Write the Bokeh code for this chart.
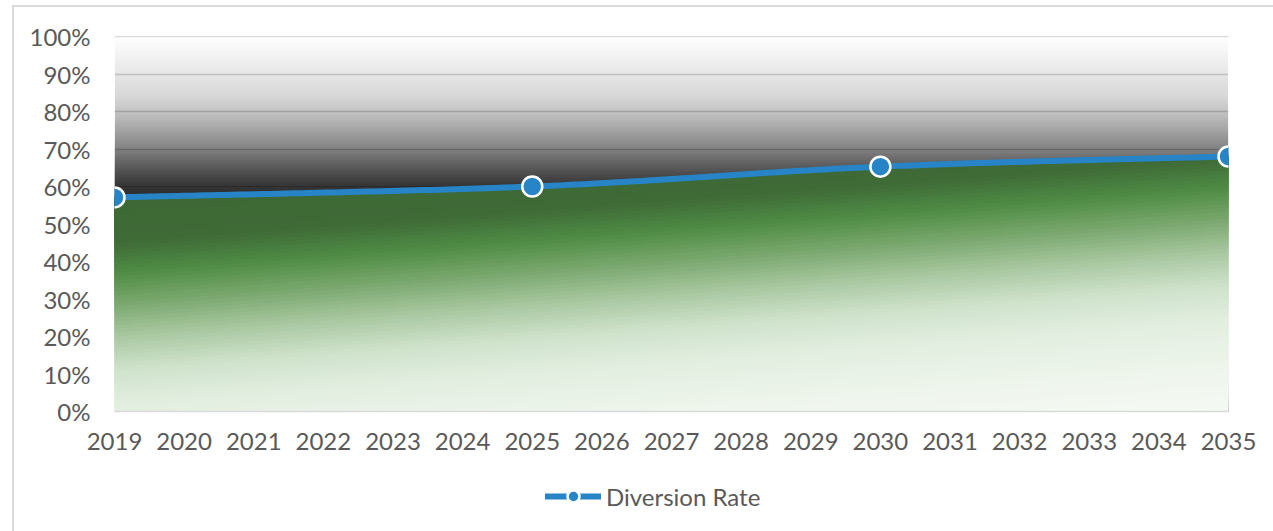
import numpy as np
from bokeh.plotting import figure
from bokeh.layouts import column
from bokeh.models import Range1d, FixedTicker, Legend, LegendItem, ColumnDataSource
from bokeh.embed import file_html
from bokeh.resources import INLINE

# ---------------- data ----------------
years = list(range(2019, 2036))
year_labels = [str(y) for y in years]
point_years = [2019, 2025, 2030, 2035]
diversion_rate = [57.1, 60.0, 65.3, 68.0]          # percent
y_ticks = [0, 10, 20, 30, 40, 50, 60, 70, 80, 90, 100]
y_tick_labels = ["0%", "10%", "20%", "30%", "40%", "50%", "60%", "70%", "80%", "90%", "100%"]
series_name = "Diversion Rate"

# ---------------- style ----------------
FONT = "Lato"
FS = "24px"
TXT = "#595959"
GRID = "#d9d9d9"
BLUE = "#2684c7"
OX, OY = 14, 7           # offset of the figures inside the bordered chart box


def smooth(xs, ys, n=60):
    """Excel-like smoothed line (Bezier through points)."""
    P = list(zip(xs, ys))
    ox, oy = [], []
    for i in range(len(P) - 1):
        p0 = P[i - 1] if i > 0 else P[i]
        p1, p2 = P[i], P[i + 1]
        p3 = P[i + 2] if i + 2 < len(P) else P[i + 1]
        c1 = (p1[0] + (p2[0] - p0[0]) / 6, p1[1] + (p2[1] - p0[1]) / 6)
        c2 = (p2[0] - (p3[0] - p1[0]) / 6, p2[1] - (p3[1] - p1[1]) / 6)
        t = np.linspace(0, 1, n, endpoint=(i == len(P) - 2))
        a, b, c, d = (1 - t) ** 3, 3 * (1 - t) ** 2 * t, 3 * (1 - t) * t ** 2, t ** 3
        ox.extend(a * p1[0] + b * c1[0] + c * c2[0] + d * p2[0])
        oy.extend(a * p1[1] + b * c1[1] + c * c2[1] + d * p2[1])
    return np.array(ox), np.array(oy)


def hex2rgb(h):
    h = h.lstrip("#")
    return np.array([int(h[i:i + 2], 16) for i in (0, 2, 4)], dtype=float)


def interp_color(u, stops):
    us = [s[0] for s in stops]
    cs = np.array([hex2rgb(s[1]) for s in stops])
    rgb = [np.interp(u, us, cs[:, k]) for k in range(3)]
    return "#%02x%02x%02x" % tuple(int(round(v)) for v in rgb)


sx, sy = smooth(point_years, diversion_rate)

W = 1273 - OX
H1 = 466 - OY
p = figure(width=W, height=H1, x_range=Range1d(2019, 2035), y_range=Range1d(0, 100 + 1 / 3.75),
           output_backend="svg", toolbar_location=None,
           min_border_left=114 - OX, min_border_right=W - (1228 - OX),
           min_border_top=35 - OY, min_border_bottom=H1 - (411 - OY))
p.outline_line_color = None
p.background_fill_color = "white"
p.border_fill_color = "white"

# ---- gray gradient background (black with varying alpha, over the gridlines) ----
gray_stops_v = [0, 55, 60, 64, 70, 75, 79.5, 84, 88, 93, 97, 100]
gray_stops_a = [0.80, 0.80, 0.76, 0.65, 0.45, 0.32, 0.21, 0.14, 0.10, 0.055, 0.025, 0.0]
step = 0.8
tops = 100 - step * np.arange(0, 63)
alphas = []
prev = 0.0
for t in tops:
    A = float(np.interp(t - step / 2, gray_stops_v, gray_stops_a))
    a = 1 - (1 - A) / (1 - prev)
    alphas.append(max(a, 0.0))
    prev = A
gsrc = ColumnDataSource(dict(left=[years[0]] * len(tops), right=[years[-1]] * len(tops),
                             bottom=[0] * len(tops), top=list(tops), alpha=alphas))
p.quad(left="left", right="right", bottom="bottom", top="top", source=gsrc,
       fill_color="black", fill_alpha="alpha", line_color=None)

# ---- green gradient area under the line (diagonal gradient) ----
slope = 1.4   # gradient tilt, percent per year
green_stops = [(-23, "#f5f9f4"), (-10, "#eef5ec"), (-2, "#e5f0e3"), (2, "#e2eee0"),
               (11, "#cfe2cb"), (20, "#a9c8a1"), (28, "#7eaa72"), (37, "#4f8c45"),
               (45, "#3f6b37"), (60, "#3d6835")]
levels = np.arange(-23, 60, 1.0)
pxs, pys, pcols = [], [], []
for k, L in enumerate(levels):
    if k == 0:
        low = np.zeros_like(sy)
    else:
        low = np.clip(L + slope * (sx - years[0]), 0, sy)
    if np.all(low >= sy - 1e-9):
        continue
    pxs.append(list(sx) + list(sx[::-1]))
    pys.append(list(sy) + list(low[::-1]))
    pcols.append(interp_color(L + 0.5 if k else L, green_stops))
p.patches(xs=pxs, ys=pys, fill_color=pcols, line_color=None)

# ---- line + markers ----
line_kw = dict(line_color=BLUE, line_width=6, line_cap="round", line_join="round")
pt_kw = dict(size=20, fill_color=BLUE, line_color="white", line_width=2.5)
line_r = p.line(sx, sy, **line_kw)
pts_r = p.scatter(point_years, diversion_rate, **pt_kw)

# ---- axes / grid ----
p.ygrid.ticker = FixedTicker(ticks=y_ticks)
p.ygrid.grid_line_color = GRID
p.ygrid.grid_line_width = 1.5
p.xgrid.visible = False

p.yaxis.ticker = FixedTicker(ticks=y_ticks)
p.yaxis.major_label_overrides = dict(zip(y_ticks, y_tick_labels))
p.yaxis.axis_line_color = None
p.yaxis.major_tick_line_color = None
p.yaxis.minor_tick_line_color = None
p.yaxis.major_label_standoff = 18

p.xaxis.ticker = FixedTicker(ticks=years)
p.xaxis.major_label_overrides = dict(zip(years, year_labels))
p.xaxis.axis_line_color = GRID
p.xaxis.axis_line_width = 1.5
p.xaxis.major_tick_line_color = None
p.xaxis.minor_tick_line_color = None
p.xaxis.major_label_standoff = 15

for ax in (p.xaxis[0], p.yaxis[0]):
    ax.major_label_text_font = FONT
    ax.major_label_text_font_size = FS
    ax.major_label_text_color = TXT

# ---- legend (own small figure under the chart) ----
H2 = 531 - 466
lg = figure(width=W, height=H2, x_range=Range1d(0, 1), y_range=Range1d(0, 1),
            x_axis_type=None, y_axis_type=None, output_backend="svg", toolbar_location=None,
            min_border_left=0, min_border_right=0, min_border_top=0, min_border_bottom=0)
lg.outline_line_color = None
lg.xgrid.visible = False
lg.ygrid.visible = False
lg.background_fill_color = "white"
lg.border_fill_color = "white"
lg_line = lg.line([np.nan], [np.nan], **line_kw)
lg_pts = lg.scatter([np.nan], [np.nan], **pt_kw)
legend = Legend(items=[LegendItem(label=series_name, renderers=[lg_line, lg_pts])],
                location=(545 - OX - 100, 531 - 496 - 15), orientation="horizontal",
                glyph_width=56, glyph_height=30, label_standoff=5,
                padding=0, margin=0, spacing=0,
                border_line_color=None, background_fill_alpha=0,
                label_text_font=FONT, label_text_font_size=FS, label_text_color=TXT)
lg.add_layout(legend, "center")

root = column(p, lg, spacing=0,
              styles={"border-left": "2px solid #d9d9d9", "border-top": "2px solid #d9d9d9",
                      "margin-left": "12px", "margin-top": "5px"})

open("out.html", "w").write(file_html(root, INLINE))
